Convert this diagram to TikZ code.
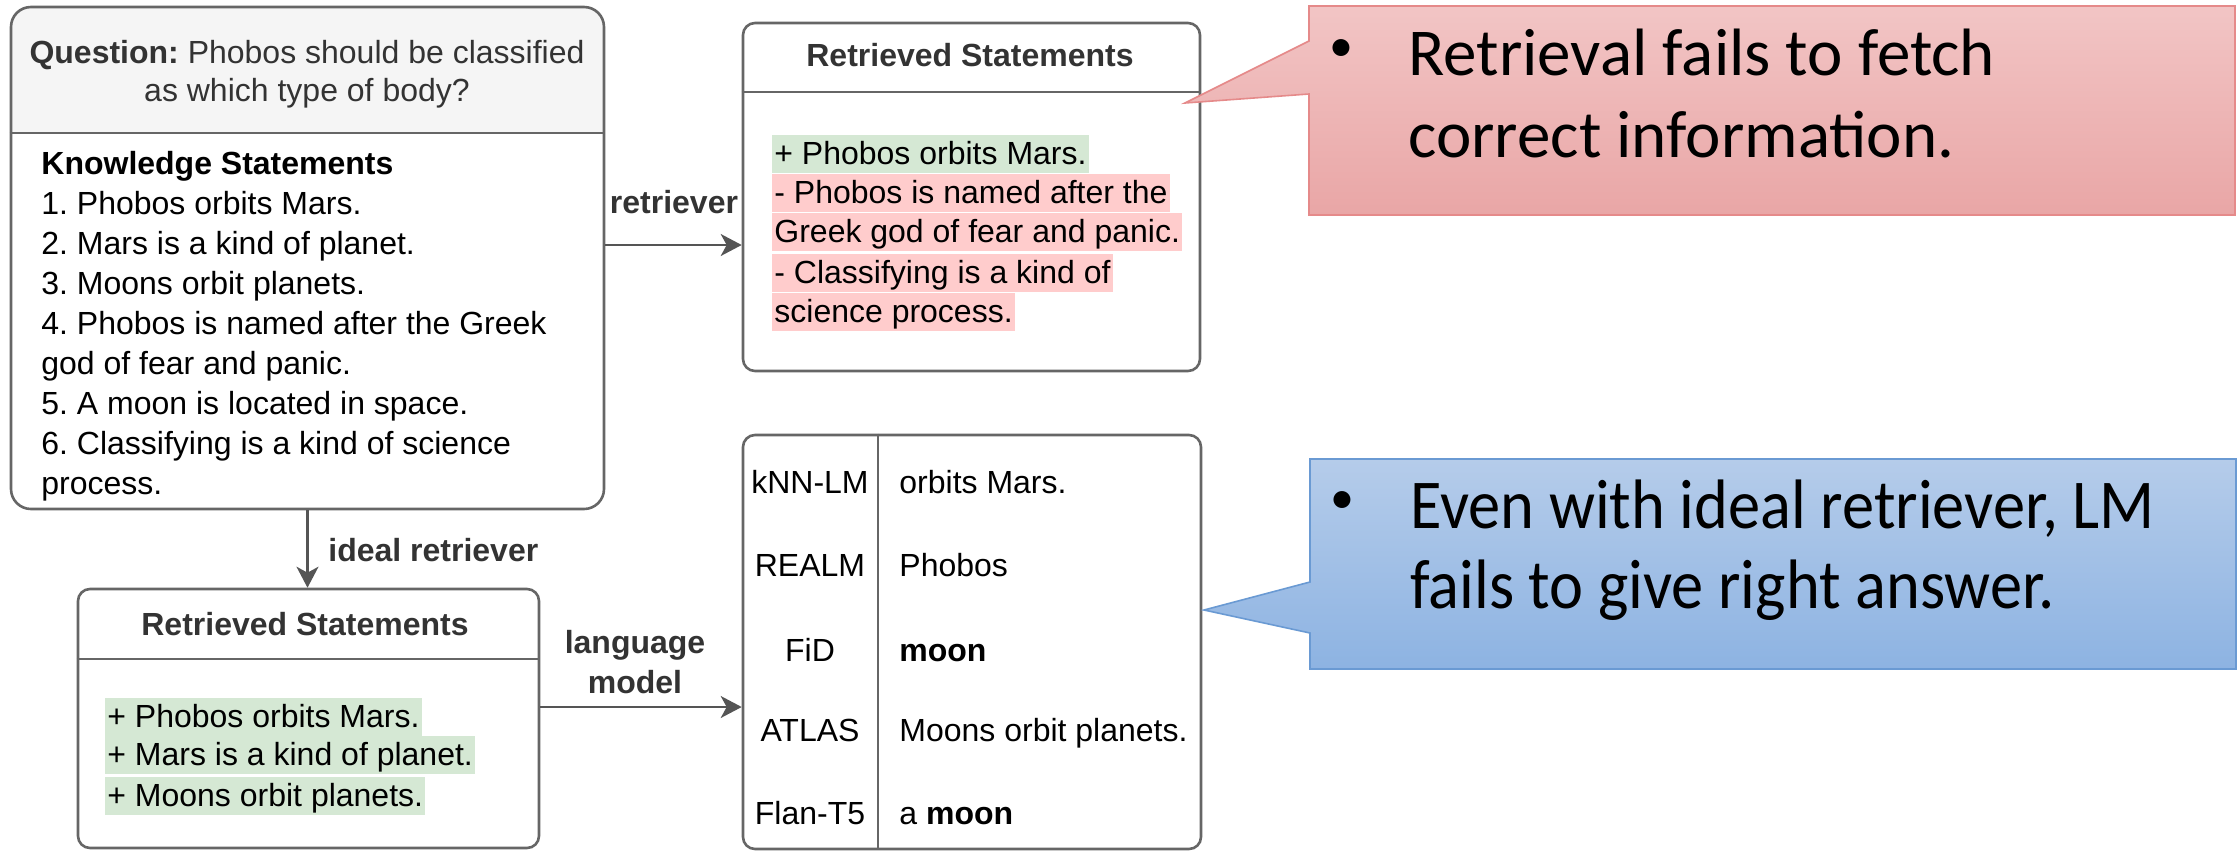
\documentclass[tikz,border=0pt]{standalone}
\usepackage{fontspec}
\setmainfont{Liberation Sans}
\newfontfamily\callfont{Carlito}
\newfontfamily\bluefont[FakeStretch=0.92]{Carlito}
\usetikzlibrary{arrows.meta,backgrounds}
\definecolor{boxline}{HTML}{666666}
\definecolor{hdr}{HTML}{F5F5F5}
\definecolor{hdrtext}{HTML}{333333}
\definecolor{hlgreen}{HTML}{D5E8D4}
\definecolor{hlred}{HTML}{FFCCCC}
\definecolor{arrowc}{HTML}{555555}
\definecolor{redtop}{HTML}{F2C5C5}
\definecolor{redbot}{HTML}{E9A6A6}
\definecolor{redline}{HTML}{E58A8A}
\definecolor{bluetop}{HTML}{B5CCEA}
\definecolor{bluebot}{HTML}{8DB3E2}
\definecolor{blueline}{HTML}{6A9AD3}
\newcommand{\fs}{\fontsize{16}{20}\selectfont}
\frenchspacing
\begin{document}
\begin{tikzpicture}[x=0.5pt,y=-0.5pt,
  box/.style={draw=boxline,line width=1.3pt,inner sep=0pt},
  divline/.style={draw=boxline,line width=1.3pt},
  txt/.style={inner sep=0pt,anchor=base west,font=\fs},
  ctr/.style={inner sep=0pt,anchor=base,font=\fs},
  lbl/.style={inner sep=0pt,font=\fs\bfseries,text=hdrtext},
  hl/.style={inner xsep=1pt,inner ysep=0pt,text height=14.5pt,text depth=4.5pt,anchor=base west,font=\fs},
  arr/.style={draw=arrowc,line width=1.2pt,-{Stealth[length=10.5pt,width=11pt,inset=3pt]}},
  ctext/.style={inner sep=0pt,anchor=base west,font=\callfont\fontsize{33.5}{40}\selectfont},
  btext/.style={inner sep=0pt,anchor=base west,font=\bluefont\fontsize{35}{40}\selectfont},
  bul/.style={inner sep=0pt,anchor=center,font=\callfont\fontsize{24}{24}\selectfont}]
\useasboundingbox (0,0) rectangle (2239,852);

% ---------- main box ----------
\node[box,rounded corners=10pt,minimum width=296.5pt,minimum height=251pt] (main) at (307.5,258) {};
\coordinate (md) at (0,133);
\begin{scope}[on background layer]
  \clip[rounded corners=10pt] (main.north west) rectangle (main.south east);
  \fill[hdr] (main.north west) rectangle (main.east |- md);
\end{scope}
\draw[divline] (main.west |- md) -- (main.east |- md);
\node[ctr,text=hdrtext] (q1) at (307,63) {\textbf{Question:} Phobos should be classified};
\node[ctr,text=hdrtext] (q2) at (307,101) {as which type of body?};
\node[txt] (k0) at (41,174) {\textbf{Knowledge Statements}};
\node[txt] (k1) at (41,214) {1. Phobos orbits Mars.};
\node[txt] (k2) at (41,254) {2. Mars is a kind of planet.};
\node[txt] (k3) at (41,294) {3. Moons orbit planets.};
\node[txt] (k4) at (41,334) {4. Phobos is named after the Greek};
\node[txt] (k5) at (41,374) {god of fear and panic.};
\node[txt] (k6) at (41,414) {5. A moon is located in space.};
\node[txt] (k7) at (41,454) {6. Classifying is a kind of science};
\node[txt] (k8) at (41,494) {process.};

% ---------- top retrieved box ----------
\node[box,rounded corners=6pt,minimum width=228.5pt,minimum height=174pt] (rtop) at (971.5,197) {};
\coordinate (td) at (0,92);
\begin{scope}[on background layer]
  \clip[rounded corners=6pt] (rtop.north west) rectangle (rtop.south east);
  \fill[hdr] (rtop.north west) rectangle (rtop.east |- td);
\end{scope}
\draw[divline] (rtop.west |- td) -- (rtop.east |- td);
\node[ctr,font=\fs\bfseries,text=hdrtext] (rtt) at (970,66) {Retrieved Statements};
\node[hl,fill=hlgreen] (t1) at (772,164) {+ Phobos orbits Mars.};
\node[hl,fill=hlred] (t2) at (772,203) {- Phobos is named after the};
\node[hl,fill=hlred] (t3) at (772,242) {Greek god of fear and panic.};
\node[hl,fill=hlred] (t4) at (772,283) {- Classifying is a kind of};
\node[hl,fill=hlred] (t5) at (772,322) {science process.};

% ---------- bottom retrieved box ----------
\node[box,rounded corners=6pt,minimum width=230.5pt,minimum height=129.5pt] (rbot) at (308.5,718.5) {};
\coordinate (bd) at (0,659);
\begin{scope}[on background layer]
  \clip[rounded corners=6pt] (rbot.north west) rectangle (rbot.south east);
  \fill[hdr] (rbot.north west) rectangle (rbot.east |- bd);
\end{scope}
\draw[divline] (rbot.west |- bd) -- (rbot.east |- bd);
\node[ctr,font=\fs\bfseries,text=hdrtext] (rbt) at (305,635) {Retrieved Statements};
\node[hl,fill=hlgreen] (b1) at (105,727) {+ Phobos orbits Mars.};
\node[hl,fill=hlgreen] (b2) at (105,765) {+ Mars is a kind of planet.};
\node[hl,fill=hlgreen] (b3) at (105,806) {+ Moons orbit planets.};

% ---------- LM table ----------
\node[box,rounded corners=6pt,minimum width=229pt,minimum height=207pt] (lm) at (972,642) {};
\coordinate (lx) at (878,0);
\draw[divline] (lm.north -| lx) -- (lm.south -| lx);
\node[ctr] (m1) at (810,493) {kNN-LM};
\node[ctr] (m2) at (810,576) {REALM};
\node[ctr] (m3) at (810,661) {FiD};
\node[ctr] (m4) at (810,741) {ATLAS};
\node[ctr] (m5) at (810,824) {Flan-T5};
\node[txt] (a1) at (899,493) {orbits Mars.};
\node[txt] (a2) at (899,576) {Phobos};
\node[txt] (a3) at (899,661) {\textbf{moon}};
\node[txt] (a4) at (899,741) {Moons orbit planets.};
\node[txt] (a5) at (899,824) {a \textbf{moon}};

% ---------- connectors ----------
\coordinate (ya) at (0,245);
\draw[arr] (main.east |- ya) -- (rtop.west |- ya);
\node[lbl,anchor=base] (lr) at (674,213) {retriever};
\draw[arr] (main.south) -- (main.south |- rbot.north);
\node[lbl,anchor=base west] (li) at (328,561) {ideal retriever};
\coordinate (yb) at (0,707);
\draw[arr] (rbot.east |- yb) -- (lm.west |- yb);
\node[lbl,anchor=base] (ll1) at (635,653) {language};
\node[lbl,anchor=base] (ll2) at (635,693) {model};

% ---------- callouts ----------
\path[draw=redline,line width=0.8pt,top color=redtop,bottom color=redbot]
  (1309,6) -- (2235,6) -- (2235,215) -- (1309,215) -- (1309,94) -- (1185,103) -- (1309,41) -- cycle;
\node[bul] (rb) at (1341,51) {•};
\node[ctext] (r1) at (1408,75) {Retrieval fails to fetch};
\node[ctext] (r2) at (1408,157) {correct information.};

\path[draw=blueline,line width=0.8pt,top color=bluetop,bottom color=bluebot]
  (1310,459) -- (2236,459) -- (2236,669) -- (1310,669) -- (1310,633) -- (1204,610) -- (1310,582) -- cycle;
\node[bul] (bb) at (1342,503) {•};
\node[btext] (u1) at (1410,528) {Even with ideal retriever, LM};
\node[btext] (u2) at (1410,608) {fails to give right answer.};
\end{tikzpicture}
\end{document}
